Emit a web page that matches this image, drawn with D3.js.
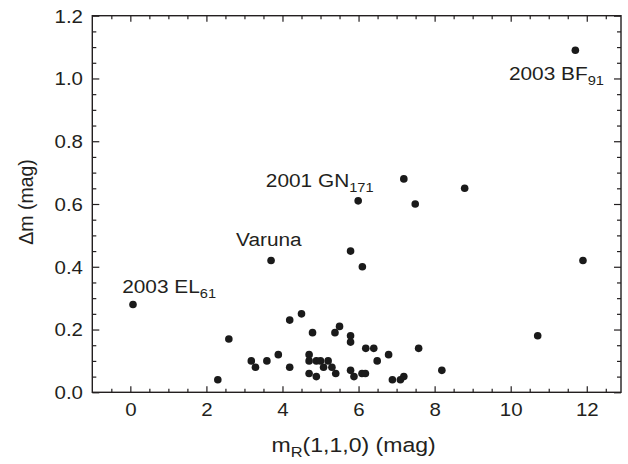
<!DOCTYPE html>
<html>
<head>
<meta charset="utf-8">
<script src="https://cdn.jsdelivr.net/npm/d3@7"></script>
<style>
  html, body { margin: 0; padding: 0; background: #fff; }
  svg { display: block; font-family: "Liberation Sans", Arial, Helvetica, sans-serif; }
</style>
</head>
<body>
<svg id="chart" width="628" height="464"></svg>
<script>
// ---- Data ----
const mR = [0.07, 3.70, 5.99, 11.70, 7.19, 8.79, 7.49, 5.79, 6.10, 11.90, 10.71, 8.19,
  2.30, 2.59, 3.18, 3.29, 3.59, 3.89, 4.19, 4.19, 4.50, 4.79, 4.70, 4.70, 4.70, 4.89,
  4.89, 5.00, 5.08, 5.20, 5.30, 5.40, 5.38, 5.50, 5.79, 5.79, 5.79, 5.88, 6.09, 6.18,
  6.19, 6.40, 6.49, 6.79, 6.89, 7.10, 7.19, 7.58];
const dm = [0.28, 0.42, 0.61, 1.09, 0.68, 0.65, 0.60, 0.45, 0.40, 0.42, 0.18, 0.07,
  0.04, 0.17, 0.10, 0.08, 0.10, 0.12, 0.23, 0.08, 0.25, 0.19, 0.12, 0.10, 0.06, 0.05,
  0.10, 0.10, 0.08, 0.10, 0.08, 0.06, 0.19, 0.21, 0.18, 0.16, 0.07, 0.05, 0.06, 0.06,
  0.14, 0.14, 0.10, 0.12, 0.04, 0.04, 0.05, 0.14];

const labelNames = ["2003 EL", "Varuna", "2001 GN", "2003 BF"];
const labelSubs  = ["61", "", "171", "91"];
const labelX     = [0.07, 3.70, 5.99, 11.70];
const labelY     = [0.28, 0.42, 0.61, 1.09];

const xMajorTicks = [0, 2, 4, 6, 8, 10, 12];
const yMajorTicks = [0.0, 0.2, 0.4, 0.6, 0.8, 1.0, 1.2];
const xTitle = ["m", "R", "(1,1,0) (mag)"];
const yTitle = "Δm (mag)";

// ---- Layout / style ----
const L = 92.3, R = 621, T = 15.7, B = 392.3;
const SX = 1.17;           // horizontal stretch of the reference's lettering
const ink = "#231f20";
const svg = d3.select("#chart");

const x = d3.scaleLinear().domain([-1, 12.9]).range([L, R]);
const y = d3.scaleLinear().domain([0, 1.2]).range([B, T]);

const xMinor = d3.range(-0.5, 12.9, 0.5).filter(v => Math.abs(v % 2) > 1e-9);
const yMinor = d3.range(0.05, 1.2, 0.05).filter(v => Math.abs((v * 100) % 20) > 1e-6 && Math.abs((v * 100) % 20 - 20) > 1e-6);

function styleAxis(g) {
  g.select(".domain").remove();
  g.selectAll("line").attr("stroke", ink).attr("stroke-width", 1.2);
}

// bottom
svg.append("g").attr("transform", `translate(0,${B})`)
  .call(d3.axisBottom(x).tickValues(xMajorTicks).tickSize(-6).tickFormat(d3.format("d")))
  .call(styleAxis)
  .call(g => g.selectAll("text")
      .attr("y", 23.8).attr("dy", null)
      .attr("transform", `scale(${SX},1)`)
      .attr("fill", ink).attr("font-size", 17.5)
      .attr("font-family", "Liberation Sans, Arial, sans-serif"));
svg.append("g").attr("transform", `translate(0,${B})`)
  .call(d3.axisBottom(x).tickValues(xMinor).tickSize(-3.5).tickFormat(""))
  .call(styleAxis);
// top
svg.append("g").attr("transform", `translate(0,${T})`)
  .call(d3.axisTop(x).tickValues(xMajorTicks).tickSize(-6).tickFormat(""))
  .call(styleAxis);
svg.append("g").attr("transform", `translate(0,${T})`)
  .call(d3.axisTop(x).tickValues(xMinor).tickSize(-3.5).tickFormat(""))
  .call(styleAxis);
// left
svg.append("g").attr("transform", `translate(${L},0)`)
  .call(d3.axisLeft(y).tickValues(yMajorTicks).tickSize(-7).tickFormat(d3.format(".1f")))
  .call(styleAxis)
  .call(g => g.selectAll("text")
      .attr("x", -9.3 / SX).attr("dy", "0.36em")
      .attr("transform", `scale(${SX},1)`)
      .attr("fill", ink).attr("font-size", 17.5)
      .attr("font-family", "Liberation Sans, Arial, sans-serif"));
svg.append("g").attr("transform", `translate(${L},0)`)
  .call(d3.axisLeft(y).tickValues(yMinor).tickSize(-4).tickFormat(""))
  .call(styleAxis);
// right
svg.append("g").attr("transform", `translate(${R},0)`)
  .call(d3.axisRight(y).tickValues(yMajorTicks).tickSize(-7).tickFormat(""))
  .call(styleAxis);
svg.append("g").attr("transform", `translate(${R},0)`)
  .call(d3.axisRight(y).tickValues(yMinor).tickSize(-4).tickFormat(""))
  .call(styleAxis);

// frame
svg.append("rect").attr("x", L).attr("y", T).attr("width", R - L).attr("height", B - T)
  .attr("fill", "none").attr("stroke", ink).attr("stroke-width", 1.4);

// points
svg.append("g").selectAll("circle")
  .data(mR.map((v, i) => [v, dm[i]]))
  .join("circle")
  .attr("cx", d => x(d[0])).attr("cy", d => y(d[1]))
  .attr("r", 3.8).attr("fill", "#1a1a1a");

// object labels (offsets from their points)
const labelOffsets = [[-10.8, -11], [-35, -14.3], [-92.3, -14.3], [-66.4, 29.3]];
labelNames.forEach((name, i) => {
  const t = svg.append("text")
    .attr("transform", `translate(${x(labelX[i]) + labelOffsets[i][0]},${y(labelY[i]) + labelOffsets[i][1]}) scale(${SX},1)`)
    .attr("font-size", 17.8).attr("fill", ink);
  t.append("tspan").text(name);
  if (labelSubs[i]) t.append("tspan").attr("font-size", 12.5).attr("dy", 5).text(labelSubs[i]);
});

// axis titles
const xt = svg.append("text")
  .attr("transform", `translate(${(L + R) / 2 - 3},452) scale(${SX},1)`)
  .attr("text-anchor", "middle").attr("font-size", 19.7).attr("fill", ink);
xt.append("tspan").text(xTitle[0]);
xt.append("tspan").attr("font-size", 14).attr("dy", 5).text(xTitle[1]);
xt.append("tspan").attr("dy", -5).text(xTitle[2]);

svg.append("text")
  .attr("transform", `translate(33,202) rotate(-90)`)
  .attr("text-anchor", "middle").attr("font-size", 19.5).attr("fill", ink)
  .text(yTitle);
</script>
</body>
</html>
